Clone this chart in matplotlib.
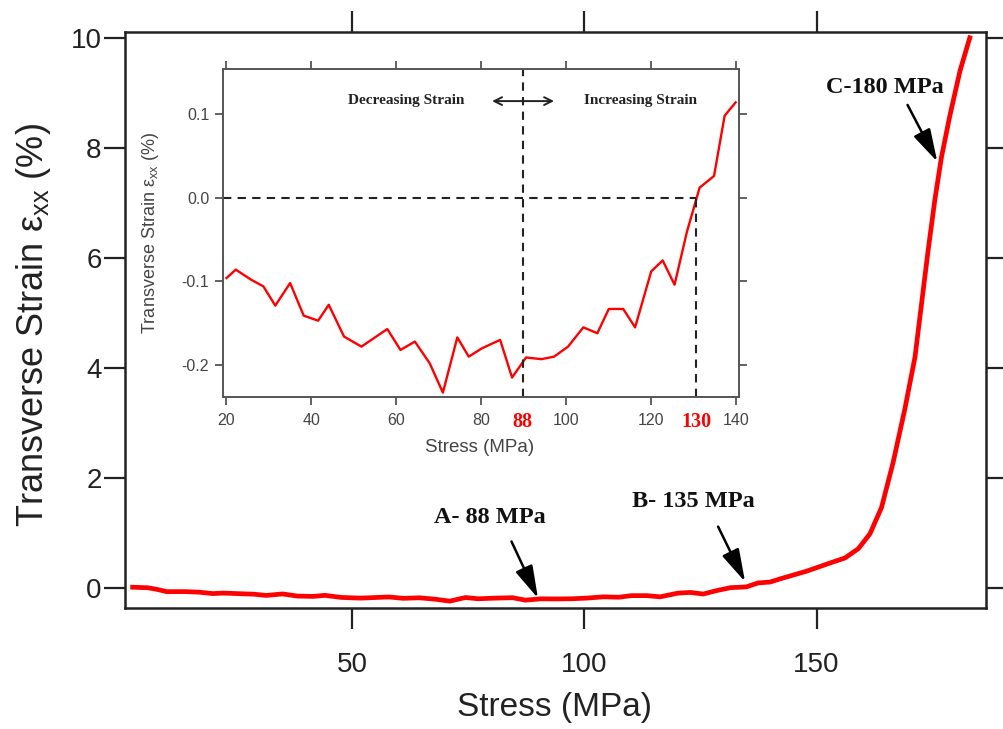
import numpy as np
import matplotlib
matplotlib.use("Agg")
import matplotlib.pyplot as plt
from matplotlib.transforms import blended_transform_factory

plt.rcParams['font.family'] = ['Liberation Sans', 'DejaVu Sans']
plt.rcParams['mathtext.fontset'] = 'custom'
plt.rcParams['mathtext.rm'] = 'Liberation Sans'
plt.rcParams['mathtext.it'] = 'Liberation Sans'

# ---- data ----
# low-stress part of the main curve (before inset range)
stress_low = [2.7, 6, 8, 10, 14, 17]
strain_low = [0.02, 0.01, -0.02, -0.06, -0.06, -0.07]

# inset (zoomed) data, 20-140 MPa
stress_in = [20, 22.2, 25.8, 28.7, 31.5, 35.0, 38.2, 41.6, 44.1, 47.7, 51.8, 55.0,
             57.9, 61.0, 64.4, 67.9, 71.0, 74.4, 77.1, 80.2, 84.5, 87.3, 90.6, 94.2,
             97.2, 100.5, 104.1, 107.4, 110.1, 113.5, 116.3, 120.1, 122.8, 125.6,
             128.5, 131.5, 134.9, 137.4, 140.0]
strain_in = [-0.096, -0.086, -0.098, -0.106, -0.129, -0.102, -0.141, -0.147, -0.128,
             -0.166, -0.178, -0.167, -0.157, -0.182, -0.172, -0.198, -0.233, -0.167,
             -0.190, -0.180, -0.170, -0.215, -0.191, -0.193, -0.190, -0.178, -0.155,
             -0.162, -0.133, -0.133, -0.155, -0.088, -0.075, -0.104, -0.041, 0.012,
             0.026, 0.098, 0.114]

# high-stress part of the main curve
stress_high = [142.1, 147.8, 153.6, 156.1, 159.0, 161.5, 164.0, 166.5, 169.0, 171.2,
               172.6, 174.0, 175.5, 176.9, 178.7, 180.9, 183.0]
strain_high = [0.17, 0.31, 0.48, 0.55, 0.72, 0.99, 1.47, 2.29, 3.25, 4.20, 5.16, 6.12,
               7.07, 7.83, 8.58, 9.40, 10.0]

main_xticks = [50, 100, 150]
main_yticks = [0, 2, 4, 6, 8, 10]
inset_xticks = [20, 40, 60, 80, 100, 120, 140]
inset_yticks = [-0.2, -0.1, 0.0, 0.1]
inset_ytick_labels = ['-0.2', '-0.1', '0.0', '0.1']

mark_a, mark_b = 89.8, 130.7  # inset dashed markers labelled 88 and 130
annotations = [("A- 88 MPa", (90.0, -0.18), (79.7, 1.28), (84.3, 0.85)),
               ("B- 135 MPa", (134.6, 0.12), (123.4, 1.57), (128.8, 1.12)),
               ("C-180 MPa", (176.0, 7.75), (164.7, 9.09), (169.6, 8.78))]

stress_main = stress_low + stress_in + stress_high
strain_main = strain_low + strain_in + strain_high

# ---- figure ----
fig = plt.figure(figsize=(10.04, 7.29), dpi=100)
ax = fig.add_axes([0.1248, 0.1664, 0.8573, 0.7901])
ax.plot(stress_main, strain_main, color='#ff0000', lw=3.4, solid_joinstyle='round')
ax.set_xlim(1.12, 186.5)
ax.set_ylim(-0.352, 10.11)
ax.set_xticks(main_xticks)
ax.set_yticks(main_yticks)
ax.tick_params(direction='out', length=15, width=1.6, labelsize=20,
               top=True, right=True, colors='#222222', labelcolor='#222222')
ax.tick_params(axis='x', pad=17)
ax.tick_params(axis='y', pad=2)
for s in ax.spines.values():
    s.set_linewidth(1.8)
    s.set_color('#222222')
ax.set_xlabel('Stress (MPa)', fontsize=24, color='#222222')
ax.set_ylabel(r'Transverse Strain ε$_{\mathregular{xx}}$ (%)', fontsize=26, color='#222222')
ax.xaxis.set_label_coords(0.499, -0.146)
ax.yaxis.set_label_coords(-0.084, 0.491)

for txt, tip, pos, tail in annotations:
    ax.text(pos[0], pos[1], txt, fontsize=17.5, fontweight='bold', family='Liberation Serif',
            ha='center', va='center', color='#111111')
    ax.annotate('', xy=tip, xytext=tail,
                arrowprops=dict(arrowstyle='-|>,head_length=1.0,head_width=0.28',
                                lw=1.8, color='black', shrinkA=0, shrinkB=0,
                                mutation_scale=20))

# ---- inset ----
axi = fig.add_axes([0.2222, 0.4557, 0.5135, 0.4498])
axi.plot(stress_in, strain_in, color='#ff0000', lw=1.7)
axi.set_xlim(19.2, 140.7)
axi.set_ylim(-0.238, 0.154)
axi.set_xticks(inset_xticks)
axi.set_yticks(inset_yticks)
axi.set_yticklabels(inset_ytick_labels)
axi.tick_params(direction='out', length=6, width=1.3, labelsize=11.5,
                top=True, right=True, colors='#555555', labelcolor='#444444')
axi.tick_params(axis='x', pad=6)
axi.tick_params(axis='y', pad=4)
for s in axi.spines.values():
    s.set_linewidth(1.4)
    s.set_color('#555555')
axi.set_xlabel('Stress (MPa)', fontsize=13.5, color='#444444')
axi.set_ylabel(r'Transverse Strain ε$_{\mathregular{xx}}$ (%)', fontsize=13, color='#444444')
axi.xaxis.set_label_coords(0.498, -0.128)
axi.yaxis.set_label_coords(-0.12, 0.5)

dash = (0, (4, 3))
axi.axvline(mark_a, color='#222222', lw=1.5, linestyle=dash)
axi.plot([19.2, mark_b], [0, 0], color='#222222', lw=1.5, linestyle=dash)
axi.plot([mark_b, mark_b], [-0.238, 0], color='#222222', lw=1.5, linestyle=dash)

tr = blended_transform_factory(axi.transData, axi.transAxes)
for v, lab in [(mark_a, '88'), (mark_b, '130')]:
    axi.text(v, -0.045, lab, transform=tr, color='#ff0000', fontsize=14.5,
             fontweight='bold', family='Liberation Serif', ha='center', va='top')

axi.text(62.4, 0.116, 'Decreasing Strain', fontsize=11, fontweight='bold',
         family='Liberation Serif', ha='center', va='center', color='#222222')
axi.text(117.5, 0.116, 'Increasing Strain', fontsize=11, fontweight='bold',
         family='Liberation Serif', ha='center', va='center', color='#222222')
axi.annotate('', xy=(97.2, 0.1155), xytext=(82.6, 0.1155),
             arrowprops=dict(arrowstyle='<->', lw=1.4, color='#222222',
                             shrinkA=0, shrinkB=0, mutation_scale=14))

fig.savefig('out.png', dpi=100)
